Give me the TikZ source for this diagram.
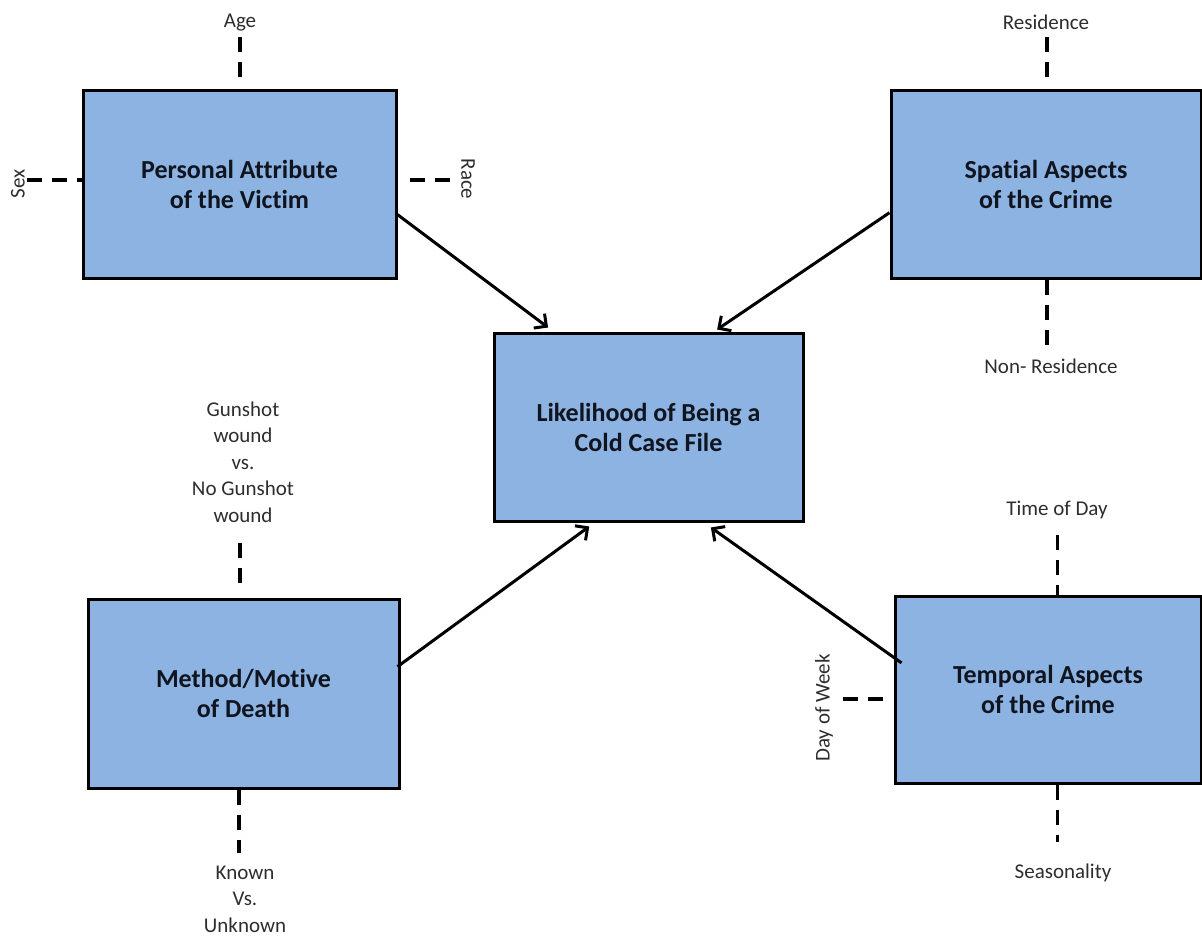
\documentclass[tikz,border=0pt]{standalone}
\usepackage{fontspec}
\setmainfont{Carlito}[Ligatures=NoCommon]
\usetikzlibrary{calc,arrows.meta}
\definecolor{boxblue}{RGB}{141,179,226}
\definecolor{labelgray}{RGB}{45,45,45}
\definecolor{boxtext}{RGB}{15,20,30}
\begin{document}
\begin{tikzpicture}[x=1pt,y=-1pt,
  box/.style={draw=black,line width=3pt,fill=boxblue,inner sep=0pt,align=center,
    font=\fontsize{26}{30}\selectfont\bfseries,text=boxtext},
  lbl/.style={inner sep=0pt,align=center,font=\fontsize{21}{26.5}\selectfont,text=labelgray},
  dash line/.style={line width=3.5pt,dash pattern=on 15pt off 10pt},
  arr/.style={line width=3pt,-{Straight Barb[length=9pt,width=18pt]}}]
\path[use as bounding box] (0,0) rectangle (1202,938);

% boxes
\node[box,minimum width=313pt,minimum height=188pt] (p) at (239.5,184) {Personal Attribute\\of the Victim};
\node[box,minimum width=310pt,minimum height=188pt] (s) at (1046,184) {Spatial Aspects\\of the Crime};
\node[box,minimum width=309pt,minimum height=188pt] (c) at (648.5,427) {Likelihood of Being a\\Cold Case File};
\node[box,minimum width=311pt,minimum height=189pt] (m) at (243.5,693.5) {Method/Motive\\of Death};
\node[box,minimum width=306pt,minimum height=187pt] (t) at (1048,689.5) {Temporal Aspects\\of the Crime};

% labels
\node[lbl] (age) at (240,23) {Age};
\node[lbl,rotate=90] (sex) at (18,184) {Sex};
\node[lbl,rotate=-90] (race) at (468,179) {Race};
\node[lbl] (res) at (1046,22) {Residence};
\node[lbl] (nonres) at (1051,366) {Non- Residence};
\node[lbl] (gun) at (243,462) {Gunshot\\wound\\vs.\\No Gunshot\\wound};
\node[lbl] (known) at (245,899) {Known\\Vs.\\Unknown};
\node[lbl] (tod) at (1057,510) {Time of Day};
\node[lbl] (season) at (1063,873) {Seasonality};
\node[lbl,rotate=90] (dow) at (824,708) {Day of Week};

% dashed attribute lines
\draw[dash line] ($(p.north)+(0.5,-51.5)$) -- ($(p.north)+(0.5,-9.5)$);
\draw[dash line] ($(p.west)+(-54.5,-4)$) -- ($(p.west)+(0,-4)$);
\draw[dash line] ($(p.east)+(52.5,-4)$) -- ($(p.east)+(9.5,-4)$);
\draw[dash line] ($(s.north)+(1,-51.5)$) -- ($(s.north)+(1,-9.5)$);
\draw[dash line] ($(s.south)+(1,0)$) -- ($(s.south)+(1,65.5)$);
\draw[dash line] ($(m.north)+(-3.5,-54.5)$) -- ($(m.north)+(-3.5,-11.5)$);
\draw[dash line] ($(m.south)+(-4.5,0)$) -- ($(m.south)+(-4.5,63.5)$);
\draw[dash line] ($(t.north)+(9.5,-59.5)$) -- ($(t.north)+(9.5,0)$);
\draw[dash line] ($(t.south)+(9.5,0)$) -- ($(t.south)+(9.5,57.5)$);
\draw[dash line] ($(t.west)+(-50.5,9.5)$) -- ($(t.west)+(-5.5,9.5)$);

% arrows into the central box
\draw[arr] ($(p.north east)!0.66!(p.south east)$) -- ($(c.north west)!0.178!(c.north east)+(0,-4)$);
\draw[arr] ($(s.north west)!0.65!(s.south west)$) -- ($(c.north west)!0.72!(c.north east)+(0,-2)$);
\draw[arr] ($(m.north east)!0.36!(m.south east)+(-3,0)$) -- ($(c.south west)!0.31!(c.south east)+(0,4)$);
\draw[arr] ($(t.north west)!0.36!(t.south west)+(8,0)$) -- ($(c.south west)!0.70!(c.south east)+(0,5)$);
\end{tikzpicture}
\end{document}
